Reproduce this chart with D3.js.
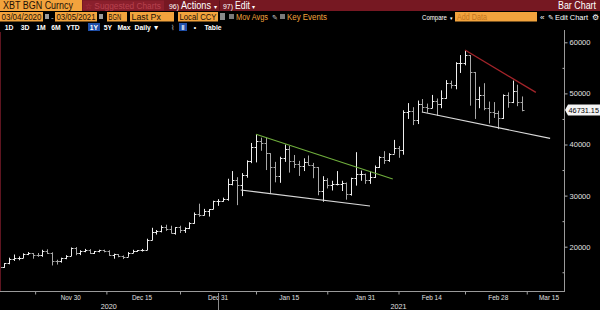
<!DOCTYPE html>
<html><head><meta charset="utf-8">
<script src="https://cdn.jsdelivr.net/npm/d3@7"></script>
<style>
html,body{margin:0;padding:0;background:#000;}
svg{display:block;}
text{font-family:"Liberation Sans",Arial,sans-serif;}
</style></head>
<body><svg id="c" width="600" height="310"></svg>
<script>
// ---------- DATA ----------
const dates = ["2020-11-15","2020-11-16","2020-11-17","2020-11-18","2020-11-19","2020-11-20","2020-11-21","2020-11-22","2020-11-23","2020-11-24","2020-11-25","2020-11-26","2020-11-27","2020-11-28","2020-11-29","2020-11-30",
"2020-12-01","2020-12-02","2020-12-03","2020-12-04","2020-12-05","2020-12-06","2020-12-07","2020-12-08","2020-12-09","2020-12-10","2020-12-11","2020-12-12","2020-12-13","2020-12-14","2020-12-15","2020-12-16","2020-12-17","2020-12-18","2020-12-19","2020-12-20","2020-12-21","2020-12-22","2020-12-23","2020-12-24","2020-12-25","2020-12-26","2020-12-27","2020-12-28","2020-12-29","2020-12-30","2020-12-31",
"2021-01-01","2021-01-02","2021-01-03","2021-01-04","2021-01-05","2021-01-06","2021-01-07","2021-01-08","2021-01-09","2021-01-10","2021-01-11","2021-01-12","2021-01-13","2021-01-14","2021-01-15","2021-01-16","2021-01-17","2021-01-18","2021-01-19","2021-01-20","2021-01-21","2021-01-22","2021-01-23","2021-01-24","2021-01-25","2021-01-26","2021-01-27","2021-01-28","2021-01-29","2021-01-30","2021-01-31",
"2021-02-01","2021-02-02","2021-02-03","2021-02-04","2021-02-05","2021-02-06","2021-02-07","2021-02-08","2021-02-09","2021-02-10","2021-02-11","2021-02-12","2021-02-13","2021-02-14","2021-02-15","2021-02-16","2021-02-17","2021-02-18","2021-02-19","2021-02-20","2021-02-21","2021-02-22","2021-02-23","2021-02-24","2021-02-25","2021-02-26","2021-02-27","2021-02-28",
"2021-03-01","2021-03-02","2021-03-03","2021-03-04","2021-03-05"];
const open  = [16070,15955,16716,17645,17800,17820,18660,18700,18420,18370,19160,18720,17150,17140,17720,18180,
19700,18780,19220,19440,18700,19150,19360,19170,18320,18550,18250,18040,18810,19170,19270,19440,21350,22800,23130,23870,23480,22720,23810,23250,23700,24680,26450,26250,27030,27350,28890,
28990,29400,32200,33000,32020,34050,36850,39470,40670,40240,38240,35550,33920,37330,39130,36800,36100,35800,36600,35900,35500,30850,33000,32100,32300,32300,32500,30400,33400,34300,
34300,33100,33550,35500,37650,36950,38200,39250,38900,46400,46500,44800,47970,47400,47200,48600,47900,49150,52130,51560,55900,55900,57500,54200,48900,49700,47100,46300,46200,
45200,49600,48400,50400,48300];
const high  = [16140,16800,17850,18475,18100,18700,18950,18750,18770,19400,19490,18900,17450,17850,18350,19850,
19920,19300,19570,19520,19160,19410,19420,19300,18640,18560,18280,18950,19400,19350,19570,21560,23700,23250,24170,24300,24100,23830,24100,23780,24780,26700,28420,27400,27360,28990,29300,
29600,33300,34800,33600,34400,36900,40300,41950,41350,41400,38300,36600,37600,40000,39700,37950,36800,37300,37850,36400,35600,33800,33400,32900,34800,32900,32560,33500,38500,34900,
34300,34700,35900,37700,38700,38300,40900,39700,46700,48100,47300,48600,48900,48000,49700,49000,50600,52600,52500,56100,57500,58350,57500,54200,51300,52000,48400,48300,46600,
49800,50200,52500,51700,49400];
const low   = [15800,15870,16560,17220,17350,17760,18350,17650,18020,18020,18580,16330,16500,16880,17550,18180,
18330,18350,18920,18570,18580,18900,18900,18200,17650,17930,17580,18020,18730,19000,19050,19300,21240,22370,22800,23100,22600,22360,22680,22700,23450,24500,25860,26100,25900,27330,28000,
28800,29000,32000,28130,29900,33500,36350,36500,38770,35000,30300,32600,32500,36600,34500,35400,33850,34800,35900,33400,30070,28800,31400,31000,32000,30900,29200,30000,31950,32900,
32300,32300,33450,35400,36200,36600,38200,37400,38000,45000,43800,44000,46300,46200,47100,45600,47100,48950,50950,50800,54000,55500,47600,45000,47100,46700,44100,45200,43000,
45000,47200,48100,47500,46500];
const close = [15955,16716,17645,17800,17820,18660,18700,18420,18370,19160,18720,17150,17140,17720,18180,19700,
18780,19220,19440,18700,19150,19360,19170,18320,18550,18250,18040,18810,19170,19270,19440,21350,22800,23130,23870,23480,22720,23810,23250,23700,24680,26450,26250,27030,27350,28890,28990,
29400,32200,33000,32020,34050,36850,39470,40670,40240,38240,35550,33920,37330,39130,36800,36100,35800,36600,35900,35500,30850,33000,32100,32300,32300,32500,30400,33400,34300,34300,
33100,33550,35500,37650,36950,38200,39250,38900,46400,46500,44800,47970,47400,47200,48600,47900,49150,52130,51560,55900,55900,57500,54200,48900,49700,47100,46300,46200,45200,
49600,48400,50400,48300,46731.15];
const lastPrice = 46731.15;

const yTicks = [20000,30000,40000,50000,60000];
const yMinorTicks = [15000,25000,35000,45000,55000];
const xLabelDates = ["2020-11-30","2020-12-15","2020-12-31","2021-01-15","2021-01-31","2021-02-14","2021-02-28","2021-03-15"];
const xLabels = ["Nov 30","Dec 15","Dec 31","Jan 15","Jan 31","Feb 14","Feb 28","Mar 15"];
const xTickDates = ["2020-11-22T12:00","2020-12-07T12:00","2020-12-23T00:00","2021-01-08T00:00","2021-01-23T00:00","2021-02-07T00:00","2021-02-21T00:00","2021-03-06T00:00"];
const yearLabels = ["2020","2021"];
const yearLabelDates = ["2020-12-08T00:00","2021-02-07T00:00"];
const yearBoundary = "2020-12-31T00:00";

// trend lines: [startDate, startPrice, endDate, endPrice]
const greenLine = ["2021-01-08T00:00", 42000, "2021-02-05T19:00", 33250];
const lowerLeftLine = ["2021-01-04T19:00", 31100, "2021-02-01T00:00", 27960];
const redLine = ["2021-02-21T00:00", 58500, "2021-03-07T22:00", 50200];
const lowerRightLine = ["2021-02-11T22:00", 46360, "2021-03-10T22:00", 41200];

// ---------- SETUP ----------
const pd = d3.utcParse("%Y-%m-%d");
const pdt = d3.utcParse("%Y-%m-%dT%H:%M");
const svg = d3.select("#c");
svg.append("rect").attr("width",600).attr("height",310).attr("fill","#000");

const plotR = 564, plotT = 31, plotB = 291;
const x = d3.scaleUtc().domain([pd("2020-11-15"), pd("2021-03-15")]).range([-0.5, 569.5]);
const y = d3.scaleLinear().domain([20000, 60000]).range([246.7, 42.3]);

// ---------- HEADER ----------
const ORANGE = "#f2a33d", RED = "#761822";
const hdr = svg.append("g");
function T(g, x0, y0, str, size, fill, len, anchor){
  const t = g.append("text").attr("x",x0).attr("y",y0).attr("font-size",size).attr("fill",fill).text(str);
  if (len) t.attr("textLength",len).attr("lengthAdjust","spacingAndGlyphs");
  if (anchor) t.attr("text-anchor",anchor);
  return t;
}
hdr.append("rect").attr("x",0).attr("y",0).attr("width",600).attr("height",11).attr("fill",RED);
hdr.append("rect").attr("x",0).attr("y",0).attr("width",82).attr("height",11).attr("fill",ORANGE);
T(hdr,3,9.2,"XBT BGN Curncy",10,"#1c1006",70);
hdr.append("rect").attr("x",83).attr("y",0.5).attr("width",81).attr("height",10).attr("fill","#8a1f2c");
T(hdr,85,8.8,"☆ Suggested Charts",8.3,"#b8424f",76);
T(hdr,169,9,"96)",8,"#fff",10);
T(hdr,181,9.2,"Actions",10,"#fff",30);
T(hdr,214,8.5,"▾",6,"#fff");
hdr.append("rect").attr("x",219).attr("y",0.5).attr("width",1).attr("height",10).attr("fill","#5a1018");
T(hdr,223,9,"97)",8,"#fff",10);
T(hdr,235,9.2,"Edit",10,"#fff",15);
T(hdr,252,8.5,"▾",6,"#fff");
T(hdr,596,9.2,"Bar Chart",10,"#fff",38,"end");

// row 2
const r2y = 12, r2h = 9.5;
function obox(x0,w,label,col){
  hdr.append("rect").attr("x",x0).attr("y",r2y).attr("width",w).attr("height",r2h).attr("fill",ORANGE);
  T(hdr,x0+1.5,r2y+8,label,8.5,col||"#1c1006",Math.min(w-3, label.length*4.2));
}
obox(0,43,"03/04/2020");
hdr.append("rect").attr("x",45).attr("y",14).attr("width",4).attr("height",5).attr("fill","#9a9a9a");
T(hdr,51,19.5,"-",8,"#ccc");
obox(55,42,"03/05/2021");
hdr.append("rect").attr("x",99).attr("y",14).attr("width",4).attr("height",5).attr("fill","#9a9a9a");
obox(107,20,"BGN");
obox(130,44,"Last Px");
obox(178,40,"Local CCY");
hdr.append("rect").attr("x",220).attr("y",13).attr("width",5).attr("height",7).attr("fill","#8a8a8a");
hdr.append("rect").attr("x",229).attr("y",14).attr("width",5).attr("height",5).attr("fill","#7a7a7a");
T(hdr,236,20,"Mov Avgs",8.5,ORANGE,32);
T(hdr,272,20,"✎",7,"#ccc");
hdr.append("rect").attr("x",280).attr("y",14).attr("width",5).attr("height",5).attr("fill","#7a7a7a");
T(hdr,287,20,"Key Events",8.5,ORANGE,40);
T(hdr,422,19.8,"Compare",6.6,"#fff",25);
T(hdr,450,19.5,"▾",5,"#fff");
hdr.append("rect").attr("x",455).attr("y",r2y).attr("width",82).attr("height",r2h).attr("fill",ORANGE);
T(hdr,457,r2y+8,"Add Data",8.5,"#c4751e",30);
T(hdr,540,20,"«",8,"#fff");
T(hdr,548,20,"✎",7,"#fff");
T(hdr,555,20,"Edit Chart",8,"#fff",33);
T(hdr,592,20,"⚙",7.5,"#fff");

// row 3
hdr.append("rect").attr("x",88).attr("y",23).attr("width",12).attr("height",8).attr("fill","#1f4fa8");
hdr.append("rect").attr("x",179).attr("y",23).attr("width",8).attr("height",8).attr("fill","#1f4fa8");
const btns = [["1D",9],["3D",25],["1M",41],["6M",56],["YTD",73],["1Y",94],["5Y",108],["Max",124],["Daily ▼",147],["⌇",172],["‖",183],["•",195],["Table",213]];
btns.forEach(b=>T(hdr,b[1],29.5,b[0],6.8,b[0]==="⌇"?"#888":"#fff",null,"middle").attr("font-weight","bold"));

// ---------- PLOT ----------
const plot = svg.append("g");
plot.append("line").attr("x1",0.5).attr("x2",0.5).attr("y1",plotT+1).attr("y2",plotB).attr("stroke","#5e1520").attr("stroke-width",1);

const data = dates.map((d,i)=>({d:pd(d),o:open[i],h:high[i],l:low[i],c:close[i]}));
svg.append("clipPath").attr("id","clp").append("rect").attr("x",1).attr("y",plotT).attr("width",plotR-1).attr("height",plotB-plotT);
const bars = plot.append("g").attr("clip-path","url(#clp)");
const bg = bars.selectAll("g.bar").data(data).join("g").attr("class","bar")
  .attr("stroke", d=> d.c>=d.o ? "#eeeeee" : "#a8a8a8").attr("stroke-width",1);
const cx = d=>Math.round(x(d.d));
bg.append("line").attr("x1",d=>cx(d)+0.5).attr("x2",d=>cx(d)+0.5).attr("y1",d=>y(d.h)).attr("y2",d=>y(d.l));
bg.append("line").attr("x1",d=>cx(d)-1.5).attr("x2",d=>cx(d)+0.5)
  .attr("y1",d=>Math.round(y(d.o))+0.5).attr("y2",d=>Math.round(y(d.o))+0.5);
bg.append("line").attr("x1",d=>cx(d)+0.5).attr("x2",d=>cx(d)+2.5)
  .attr("y1",d=>Math.round(y(d.c))+0.5).attr("y2",d=>Math.round(y(d.c))+0.5);

function trend(t,col,w){
  plot.append("line").attr("x1",x(pdt(t[0]))).attr("y1",y(t[1])).attr("x2",x(pdt(t[2]))).attr("y2",y(t[3]))
    .attr("stroke",col).attr("stroke-width",w||1.1);
}
trend(greenLine,"#6fae3c");
trend(lowerLeftLine,"#d8d8d8");
trend(redLine,"#a3242a",1.3);
trend(lowerRightLine,"#dadada");

// ---------- Y AXIS ----------
const yAx = svg.append("g").attr("transform",`translate(${plotR+0.5},0)`)
  .call(d3.axisRight(y).tickValues(yTicks).tickSize(3).tickPadding(2).tickFormat(d3.format("d")));
yAx.select(".domain").remove();
yAx.selectAll("line").attr("stroke","#b0b0b0");
yAx.selectAll("text").attr("fill","#e0e0e0").attr("font-size",7.5).attr("textLength",21).attr("lengthAdjust","spacingAndGlyphs");
const yMin = svg.append("g").attr("transform",`translate(${plotR+0.5},0)`)
  .call(d3.axisLeft(y).tickValues(yMinorTicks).tickSize(2).tickFormat(""));
yMin.select(".domain").remove();
yMin.selectAll("line").attr("stroke","#b0b0b0");
svg.append("line").attr("x1",plotR+0.5).attr("x2",plotR+0.5).attr("y1",plotT-1).attr("y2",plotB).attr("stroke","#9a9a9a");

// last price tag
const ly = Math.round(y(lastPrice));
svg.append("path").attr("d",`M${plotR+1},${ly} L${plotR+4},${ly-5.5} L600,${ly-5.5} L600,${ly+5.5} L${plotR+4},${ly+5.5} Z`).attr("fill","#f4f4f4");
T(svg,plotR+4.5,ly+3,d3.format(".2f")(lastPrice),7.5,"#000",30.5);

// ---------- X AXIS ----------
const xAx = svg.append("g").attr("transform",`translate(0,${plotB+0.5})`)
  .call(d3.axisBottom(x).tickValues(xTickDates.map(pdt)).tickSize(3).tickFormat(""));
xAx.select(".domain").remove();
xAx.selectAll("line").attr("stroke","#a0a0a0");
svg.append("line").attr("x1",0).attr("x2",plotR+1).attr("y1",plotB+0.5).attr("y2",plotB+0.5).attr("stroke","#9a9a9a");
xLabels.forEach((lab,i)=>{
  const px = Math.min(x(pd(xLabelDates[i])), 549);
  T(svg,px,300,lab,7.5,"#e0e0e0",20,"middle");
});
yearLabels.forEach((lab,i)=>{
  T(svg,x(pdt(yearLabelDates[i])),308.5,lab,7.5,"#e0e0e0",16,"middle");
});
const yb = Math.round(x(pdt(yearBoundary)))+0.5;
svg.append("line").attr("x1",yb).attr("x2",yb).attr("y1",plotB+2).attr("y2",310).attr("stroke","#8a8a8a");
</script></body></html>
